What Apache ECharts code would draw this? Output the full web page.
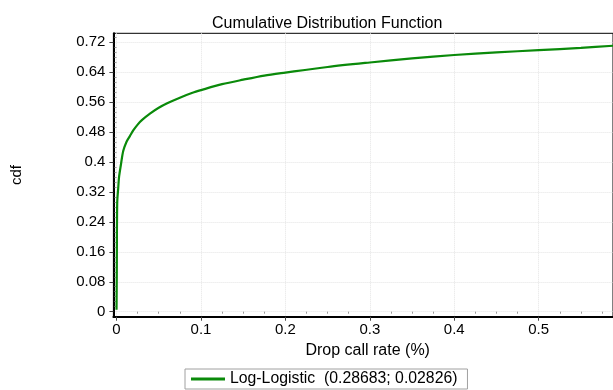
<!DOCTYPE html>
<html>
<head>
<meta charset="utf-8">
<script src="https://cdn.jsdelivr.net/npm/echarts@6/dist/echarts.min.js"></script>
<style>
  html, body { margin: 0; padding: 0; background: #fff; }
  #main { width: 613px; height: 390px; }
</style>
</head>
<body>
<div id="main"></div>
<script>
const dropRate = [0, 0.0003, 0.0008, 0.002, 0.003, 0.005, 0.008, 0.012, 0.016, 0.02, 0.025, 0.03, 0.04, 0.05, 0.06, 0.075, 0.09, 0.1, 0.125, 0.15, 0.175, 0.2, 0.25, 0.3, 0.35, 0.4, 0.45, 0.5, 0.55, 0.59];
const cdfValues = [0.005, 0.10, 0.29, 0.33, 0.36, 0.39, 0.43, 0.455, 0.47, 0.485, 0.50, 0.512, 0.53, 0.545, 0.557, 0.572, 0.585, 0.592, 0.608, 0.62, 0.631, 0.639, 0.654, 0.666, 0.677, 0.686, 0.693, 0.699, 0.705, 0.711];

const xTicks = [0, 0.1, 0.2, 0.3, 0.4, 0.5];
const yTicks = [0, 0.08, 0.16, 0.24, 0.32, 0.4, 0.48, 0.56, 0.64, 0.72];
const legendName = 'Log-Logistic  (0.28683; 0.02826)';

const xMin = -0.0037, xMax = 0.588;
const yMin = -0.0134, yMax = 0.744;

// minor tick positions (axis decoration only)
const xMinor = [];
for (let i = 1; i <= 23; i++) { if (i % 4 !== 0) xMinor.push(+(i * 0.025).toFixed(4)); }
const yMinor = [];
for (let i = 1; i <= 55; i++) { if (i % 6 !== 0) yMinor.push(+(i * 0.08 / 6).toFixed(5)); }

const seriesData = dropRate.map((x, i) => [x, cdfValues[i]]);

const font = 'Arial, "Liberation Sans", sans-serif';

const chart = echarts.init(document.getElementById('main'), null, { renderer: 'canvas' });

const option = {
  animation: false,
  backgroundColor: '#fff',
  title: {
    text: 'Cumulative Distribution Function',
    left: 207,
    top: 11,
    textStyle: { fontFamily: font, fontSize: 16, fontWeight: 'normal', color: '#000' }
  },
  legend: {
    data: [{ name: legendName, icon: 'rect' }],
    left: 185,
    top: 369,
    padding: [2, 10, 2, 6],
    borderColor: '#a0a0a0',
    borderWidth: 1,
    itemWidth: 34,
    itemHeight: 3,
    itemGap: 5,
    textStyle: { fontFamily: font, fontSize: 15.8, color: '#000' }
  },
  grid: {
    left: 113.4,
    top: 33.3,
    right: 0,
    bottom: 73.3,
    show: true,
    borderColor: '#000',
    borderWidth: 1
  },
  xAxis: [
    {
      type: 'value',
      min: xMin,
      max: xMax,
      name: 'Drop call rate (%)',
      nameLocation: 'middle',
      nameGap: 21,
      nameTextStyle: { fontFamily: font, fontSize: 16, color: '#000', padding: [0, 0, 0, 9] },
      axisLine: { show: true, onZero: false, lineStyle: { color: '#000', width: 2 } },
      axisTick: { show: true, length: 4, customValues: xTicks, lineStyle: { color: '#444' } },
      axisLabel: { customValues: xTicks, margin: 6, fontFamily: font, fontSize: 15, color: '#000' },
      splitLine: { show: true, lineStyle: { color: '#e4e4e4', type: 'dotted' } }
    },
    {
      type: 'value',
      min: xMin,
      max: xMax,
      position: 'bottom',
      axisLine: { show: false },
      axisTick: { show: true, length: 2, customValues: xMinor, lineStyle: { color: '#999' } },
      axisLabel: { show: false },
      splitLine: { show: false }
    }
  ],
  yAxis: [
    {
      type: 'value',
      min: yMin,
      max: yMax,
      name: 'cdf',
      nameLocation: 'middle',
      nameGap: 89,
      nameTextStyle: { fontFamily: font, fontSize: 15, color: '#000' },
      axisLine: { show: true, onZero: false, lineStyle: { color: '#000', width: 2 } },
      axisTick: { show: true, length: 4, customValues: yTicks, lineStyle: { color: '#444' } },
      axisLabel: { customValues: yTicks, margin: 8, fontFamily: font, fontSize: 15, color: '#000' },
      splitLine: { show: true, lineStyle: { color: '#e4e4e4', type: 'dotted' } }
    },
    {
      type: 'value',
      min: yMin,
      max: yMax,
      position: 'left',
      axisLine: { show: false },
      axisTick: { show: true, length: 2, customValues: yMinor, lineStyle: { color: '#999' } },
      axisLabel: { show: false },
      splitLine: { show: false }
    }
  ],
  series: [
    {
      name: legendName,
      type: 'line',
      xAxisIndex: 0,
      yAxisIndex: 0,
      data: seriesData,
      showSymbol: false,
      smooth: 0.3,
      lineStyle: { color: '#0a8a0a', width: 2.2 },
      itemStyle: { color: '#0a8a0a' }
    }
  ]
};

chart.setOption(option);
</script>
</body>
</html>
